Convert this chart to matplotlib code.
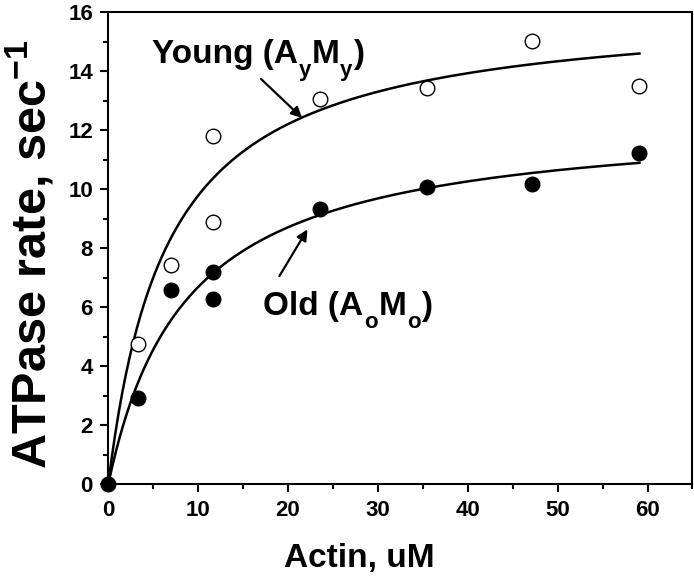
import matplotlib
matplotlib.use("Agg")
import matplotlib.pyplot as plt
import numpy as np
from matplotlib.ticker import MultipleLocator

# measured points
young_x = [3.3, 7.0, 11.6, 11.6, 23.6, 35.5, 47.2, 59.1]
young_y = [4.75, 7.45, 11.82, 8.88, 13.07, 13.43, 15.02, 13.5]
old_x = [0, 3.3, 7.0, 11.6, 11.6, 23.6, 35.5, 47.2, 59.1]
old_y = [0, 2.92, 6.58, 7.2, 6.27, 9.32, 10.08, 10.17, 11.24]

# Michaelis-Menten fit parameters (Vmax, Km)
young_vmax, young_km = 16.23, 6.58
old_vmax, old_km = 12.5, 8.69
fit_xmax = 59.1

plt.rcParams['font.family'] = ['Liberation Sans', 'DejaVu Sans']
plt.rcParams['font.weight'] = 'bold'
plt.rcParams['mathtext.fontset'] = 'custom'
plt.rcParams['mathtext.rm'] = 'Liberation Sans:bold'
plt.rcParams['mathtext.bf'] = 'Liberation Sans:bold'
plt.rcParams['mathtext.it'] = 'Liberation Sans:bold'

fig = plt.figure(figsize=(6.94, 5.80), dpi=100)
ax = fig.add_axes([0.156, 0.165, 0.8418, 0.8137])

xs = np.linspace(0, fit_xmax, 300)
ax.plot(xs, young_vmax * xs / (young_km + xs), color='black', lw=1.8)
ax.plot(xs, old_vmax * xs / (old_km + xs), color='black', lw=1.8)

ax.plot(young_x, young_y, 'o', mfc='white', mec='black', mew=1.0, ms=10.5, ls='none')
ax.plot(old_x, old_y, 'o', mfc='black', mec='black', ms=10.5, ls='none', clip_on=False)

ax.set_xlim(0, 65)
ax.set_ylim(0, 16)
ax.xaxis.set_major_locator(MultipleLocator(10))
ax.xaxis.set_minor_locator(MultipleLocator(5))
ax.yaxis.set_major_locator(MultipleLocator(2))
ax.yaxis.set_minor_locator(MultipleLocator(1))
ax.tick_params(which='major', direction='out', length=6, width=1.5, labelsize=16, pad=5)
ax.tick_params(which='minor', direction='out', length=3.3, width=1.5)
for sp in ax.spines.values():
    sp.set_linewidth(1.5)

xl = ax.set_xlabel('Actin, uM', fontsize=24, fontweight='bold')
xl.set_va('baseline')
ax.xaxis.set_label_coords(0.43, -0.175)

yl = ax.set_ylabel(r'ATPase rate, sec$^{\mathbf{-1}}$', fontsize=35, fontweight='bold')
yl.set_rotation_mode('anchor')
yl.set_va('baseline')
yl.set_ha('center')
ax.yaxis.set_label_coords(-0.106, 0.488)


def label_with_subs(x, y, head, a_sub, tail_sub, size=24, sub_size=16):
    # "head (A" + sub + "M" + sub + ")" with big, dropped subscripts
    t1 = ax.text(x, y, head + ' (A', fontsize=size, fontweight='bold', va='baseline')
    s1 = ax.annotate(a_sub, xy=(1, 0), xycoords=t1, xytext=(0.5, -8), textcoords='offset points',
                     fontsize=sub_size, fontweight='bold', va='bottom', ha='left')
    t2 = ax.annotate('M', xy=(1, 0), xycoords=(s1, t1), xytext=(0.5, 0), textcoords='offset points',
                     fontsize=size, fontweight='bold', va='bottom', ha='left')
    s2 = ax.annotate(tail_sub, xy=(1, 0), xycoords=(t2, s1), xytext=(0.5, 0), textcoords='offset points',
                     fontsize=sub_size, fontweight='bold', va='bottom', ha='left')
    ax.annotate(')', xy=(1, 0), xycoords=(s2, t1), xytext=(0.5, 0), textcoords='offset points',
                fontsize=size, fontweight='bold', va='bottom', ha='left')


label_with_subs(4.83, 14.29, 'Young', 'y', 'y')
label_with_subs(17.26, 5.74, 'Old', 'o', 'o')

arrow = dict(arrowstyle='-|>', mutation_scale=16, lw=1.6, color='black', shrinkA=0, shrinkB=0)
ax.annotate('', xy=(21.57, 12.42), xytext=(17.0, 13.74), arrowprops=arrow)
ax.annotate('', xy=(22.16, 8.64), xytext=(19.04, 7.06), arrowprops=arrow)

fig.savefig('out.png', dpi=100)
